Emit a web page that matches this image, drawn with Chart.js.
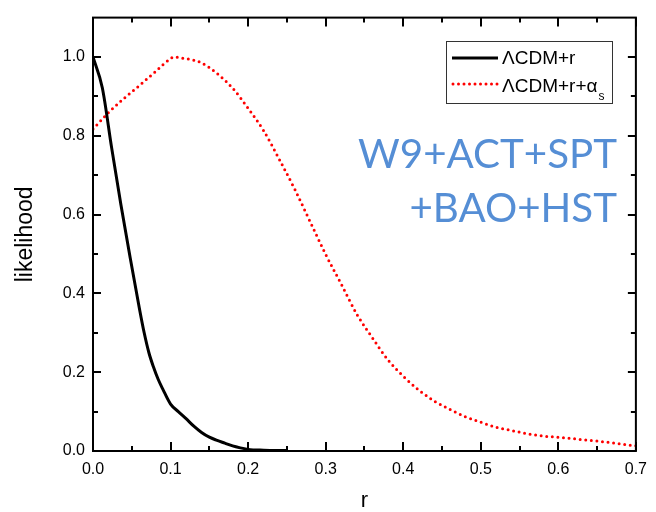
<!DOCTYPE html>
<html>
<head>
<meta charset="utf-8">
<script src="https://cdn.jsdelivr.net/npm/chart.js@4.4.0/dist/chart.umd.min.js"></script>
<style>
  html, body { margin: 0; padding: 0; background: #fff; }
</style>
</head>
<body>
<canvas id="chart" width="656" height="512"></canvas>
<script>
// Datos
const rLcdm = [0, 0.012, 0.024, 0.036, 0.048, 0.06, 0.066, 0.072, 0.078, 0.084, 0.09, 0.1, 0.11, 0.12, 0.13, 0.14, 0.15, 0.16, 0.17, 0.18, 0.19, 0.2, 0.22, 0.25];
const likeLcdm = [1.0, 0.922, 0.77, 0.625, 0.49, 0.36, 0.30, 0.25, 0.213, 0.182, 0.157, 0.119, 0.100, 0.082, 0.063, 0.047, 0.035, 0.027, 0.020, 0.013, 0.008, 0.004, 0.002, 0.001];

const rAlpha = [0, 0.02, 0.04, 0.06, 0.08, 0.1, 0.105, 0.115, 0.13, 0.14, 0.16, 0.18, 0.2, 0.22, 0.24, 0.26, 0.28, 0.3, 0.32, 0.34, 0.36, 0.38, 0.4, 0.42, 0.44, 0.46, 0.48, 0.5, 0.52, 0.54, 0.56, 0.58, 0.6, 0.62, 0.64, 0.66, 0.68, 0.7];
const likeAlpha = [0.817, 0.859, 0.895, 0.928, 0.962, 0.996, 1.0, 0.997, 0.992, 0.985, 0.958, 0.921, 0.870, 0.813, 0.741, 0.665, 0.582, 0.499, 0.424, 0.348, 0.288, 0.232, 0.190, 0.155, 0.127, 0.106, 0.087, 0.073, 0.060, 0.052, 0.044, 0.038, 0.035, 0.031, 0.027, 0.023, 0.018, 0.013];

const xTicks = [0, 0.1, 0.2, 0.3, 0.4, 0.5, 0.6, 0.7];
const yTicks = [0, 0.2, 0.4, 0.6, 0.8, 1.0];

const legendLabels = ['\u039BCDM+r', '\u039BCDM+r+\u03B1'];
const legendSub = 's';
const noteLines = ['W9+ACT+SPT', '+BAO+HST'];

const toPoints = (xs, ys) => xs.map((x, i) => ({ x: x, y: ys[i] }));

// Marco, marcas interiores, leyenda y texto azul
const extras = {
    id: 'extras',
    afterDatasetsDraw(chart) {
        const ctx = chart.ctx;
        const area = chart.chartArea;
        const sx = chart.scales.x;
        const sy = chart.scales.y;
        ctx.save();

        // marco
        ctx.strokeStyle = '#000';
        ctx.lineWidth = 2;
        ctx.strokeRect(area.left, area.top, area.right - area.left, area.bottom - area.top);

        // marcas del eje x (abajo y arriba)
        ctx.lineWidth = 2;
        const xMinor = xTicks.slice(0, -1).map((v, i) => (v + xTicks[i + 1]) / 2);
        const tickX = (v, len) => {
            const px = Math.round(sx.getPixelForValue(v));
            ctx.beginPath();
            ctx.moveTo(px, area.bottom);
            ctx.lineTo(px, area.bottom - len);
            ctx.moveTo(px, area.top);
            ctx.lineTo(px, area.top + len);
            ctx.stroke();
        };
        xTicks.forEach(v => tickX(v, 9));
        xMinor.forEach(v => tickX(v, 5));

        // marcas del eje y (izquierda y derecha)
        const yMinor = yTicks.map(v => v + 0.1).filter(v => v < 1.05);
        const tickY = (v, len) => {
            const py = Math.round(sy.getPixelForValue(v));
            ctx.beginPath();
            ctx.moveTo(area.left, py);
            ctx.lineTo(area.left + len, py);
            ctx.moveTo(area.right, py);
            ctx.lineTo(area.right - len, py);
            ctx.stroke();
        };
        yTicks.forEach(v => tickY(v, 8));
        yMinor.forEach(v => tickY(v, 5));

        // leyenda
        ctx.lineWidth = 1;
        ctx.strokeStyle = '#333';
        ctx.strokeRect(446.5, 41.5, 166, 62);

        ctx.setLineDash([]);
        ctx.lineCap = 'butt';
        ctx.strokeStyle = '#000';
        ctx.lineWidth = 3;
        ctx.beginPath();
        ctx.moveTo(452, 58);
        ctx.lineTo(498, 58);
        ctx.stroke();

        ctx.strokeStyle = '#ff0000';
        ctx.lineWidth = 3;
        ctx.lineCap = 'round';
        ctx.setLineDash([0, 5.5]);
        ctx.beginPath();
        ctx.moveTo(453, 84);
        ctx.lineTo(498, 84);
        ctx.stroke();
        ctx.setLineDash([]);

        ctx.fillStyle = '#000';
        ctx.textAlign = 'left';
        ctx.textBaseline = 'alphabetic';
        ctx.font = '19px "Liberation Sans", Arial, sans-serif';
        ctx.fillText(legendLabels[0], 502, 64);
        ctx.fillText(legendLabels[1], 502, 92);
        const w = ctx.measureText(legendLabels[1]).width;
        ctx.font = '12px "Liberation Sans", Arial, sans-serif';
        ctx.fillText(legendSub, 502 + w + 1, 100);

        // texto azul
        ctx.fillStyle = '#558ED5';
        ctx.textAlign = 'right';
        ctx.font = '40px Lato, "Open Sans", sans-serif';
        const scale = 259 / ctx.measureText(noteLines[0]).width;
        ctx.font = (40 * scale).toFixed(1) + 'px Lato, "Open Sans", sans-serif';
        ctx.fillText(noteLines[0], 617, 168);
        ctx.fillText(noteLines[1], 617, 222);

        ctx.restore();
    }
};

const tickFont = { family: '"Liberation Sans", Arial, sans-serif', size: 16 };

new Chart(document.getElementById('chart'), {
    type: 'line',
    data: {
        datasets: [{
            label: legendLabels[0],
            data: toPoints(rLcdm, likeLcdm),
            borderColor: '#000',
            borderWidth: 3,
            pointRadius: 0,
            cubicInterpolationMode: 'monotone',
            fill: false
        }, {
            label: legendLabels[1] + legendSub,
            data: toPoints(rAlpha, likeAlpha),
            borderColor: '#ff0000',
            borderWidth: 3,
            borderDash: [0, 5.6],
            borderCapStyle: 'round',
            pointRadius: 0,
            cubicInterpolationMode: 'monotone',
            fill: false
        }]
    },
    options: {
        responsive: false,
        animation: false,
        layout: { padding: { top: 13, right: 15, left: 0, bottom: 0 } },
        plugins: {
            legend: { display: false },
            tooltip: { enabled: false }
        },
        scales: {
            x: {
                type: 'linear',
                min: 0,
                max: 0.7,
                afterBuildTicks: scale => { scale.ticks = xTicks.map(v => ({ value: v })); },
                afterFit: scale => { scale.height = 61; },
                grid: { display: false, drawTicks: false },
                border: { display: false },
                ticks: {
                    color: '#000',
                    font: tickFont,
                    padding: 9,
                    maxRotation: 0,
                    callback: v => v.toFixed(1)
                },
                title: {
                    display: true,
                    text: 'r',
                    color: '#000',
                    font: { family: '"Liberation Sans", Arial, sans-serif', size: 22, lineHeight: 1 },
                    padding: { top: 0, bottom: 0 }
                }
            },
            y: {
                type: 'linear',
                min: 0,
                max: 1.1,
                afterBuildTicks: scale => { scale.ticks = yTicks.map(v => ({ value: v })); },
                afterFit: scale => { scale.width = 93; },
                grid: { display: false, drawTicks: false },
                border: { display: false },
                ticks: {
                    color: '#000',
                    font: tickFont,
                    padding: 8,
                    callback: v => v.toFixed(1)
                },
                title: {
                    display: true,
                    text: 'likelihood',
                    color: '#000',
                    font: { family: '"Liberation Sans", Arial, sans-serif', size: 23, lineHeight: 1.2 },
                    padding: { top: 12, bottom: 0 }
                }
            }
        }
    },
    plugins: [extras]
});
</script>
</body>
</html>
